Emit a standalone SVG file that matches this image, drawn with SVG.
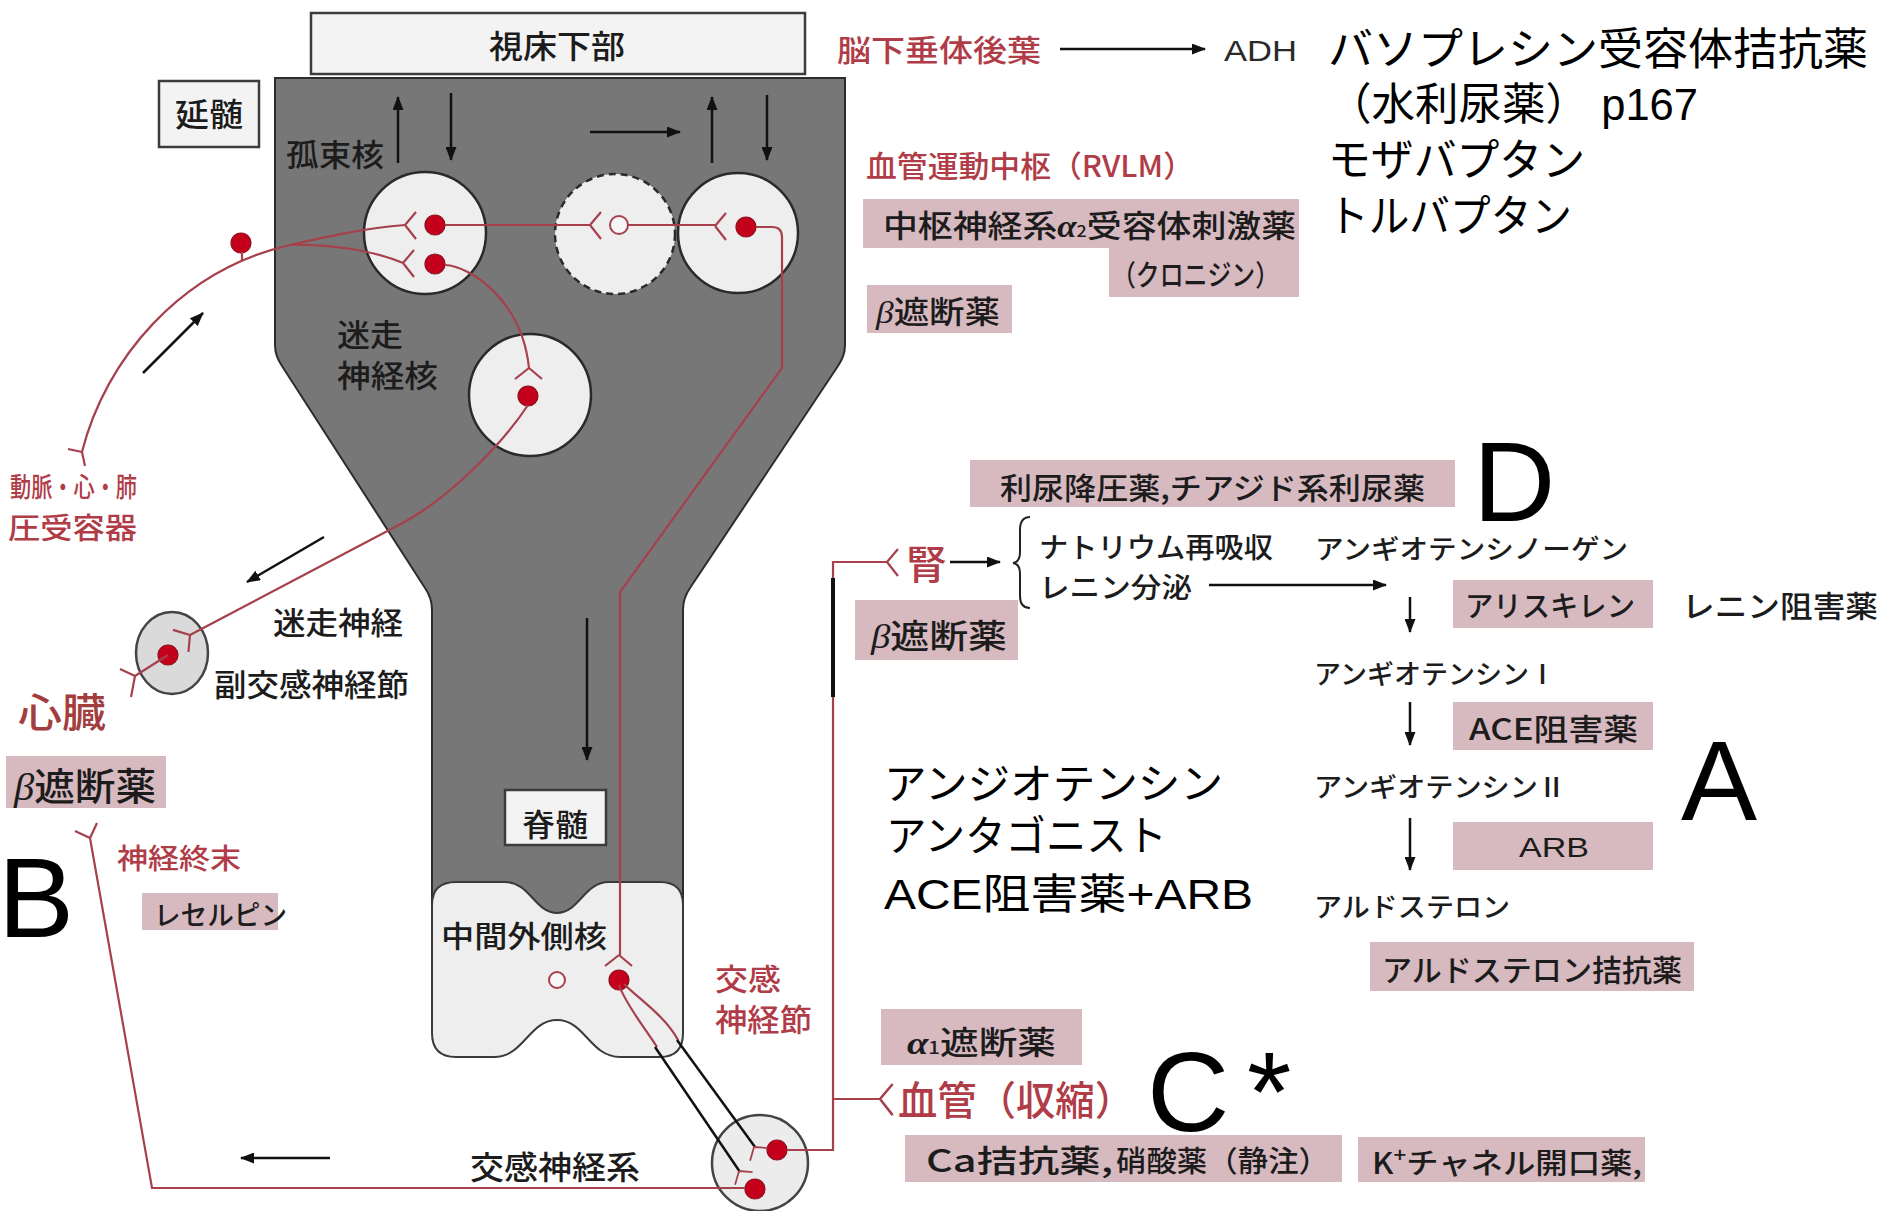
<svg xmlns="http://www.w3.org/2000/svg" width="1883" height="1211" viewBox="0 0 1883 1211">
<style>
  .t{font-family:"Noto Sans CJK JP","Noto Sans",sans-serif;fill:#1c1c1c;font-weight:500}
  .r{fill:#b03c48}
  .n{font-family:"Liberation Sans","Noto Sans CJK JP",sans-serif;fill:#000}
  .big{font-family:"Liberation Sans",sans-serif;font-size:114px;fill:#000}
  .gr{font-family:"Liberation Serif",serif;font-style:italic}
  .pk{fill:#d7b9c0}
  .nv{fill:none;stroke:#a6404d;stroke-width:2.2}
  .nuc{fill:#eeeeee;stroke:#2a2a2a;stroke-width:2.5}
  .dot{fill:#c4001c;stroke:#8e0f1c;stroke-width:1.2}
  .ar{fill:none;stroke:#111;stroke-width:2.5;marker-end:url(#ah)}
  .blk{fill:none;stroke:#111;stroke-width:2.5}
  .box{fill:#f3f3f3;stroke:#3c3c3c;stroke-width:2.5}
</style>
<defs>
  <marker id="ah" viewBox="0 0 14 11" refX="13" refY="5.5" markerWidth="14" markerHeight="11" markerUnits="userSpaceOnUse" orient="auto">
    <path d="M0 0 L14 5.5 L0 11 Z" fill="#111"/>
  </marker>
  <!-- synaptic terminal: fibre arrives at the vertex, two prongs open forward -->
  <path id="syn" d="M0 0 L11 -13 M0 0 L11 14" class="nv"/>
</defs>

<rect width="1883" height="1211" fill="#fff"/>

<!-- brain stem and spinal cord body -->
<g id="medulla">
  <path d="M275 78 H845 V345 Q845 356 838 366 L690 588 Q683 598 683 610 V930 H432 V610 Q432 598 425 588 L282 366 Q275 356 275 345 Z" fill="#777" stroke="#2d2d2d" stroke-width="2"/>
</g>

<g id="spinal-cord">
  <path d="M432 905 Q432 882 456 882 L505 882 C530 882 535 913 557 913 C579 913 584 882 609 882 L660 882 Q683 882 683 905 L683 1033 Q683 1057 660 1057 L620 1057 C590 1057 585 1020 557 1020 C529 1020 524 1057 494 1057 L456 1057 Q432 1057 432 1033 Z" fill="#eeeeee" stroke="#3a3a3a" stroke-width="2"/>
  <rect x="505" y="790" width="101" height="55" class="box"/>
  <text x="555" y="836" class="t" font-size="31" text-anchor="middle" textLength="66" lengthAdjust="spacingAndGlyphs">脊髄</text>
  <text x="441" y="947" class="t" font-size="30" textLength="166" lengthAdjust="spacingAndGlyphs">中間外側核</text>
  <circle cx="557" cy="980" r="8" fill="#f6f6f6" stroke="#a6404d" stroke-width="2"/>
  <circle cx="619" cy="980" r="10" class="dot"/>
</g>

<g id="hypothalamus">
  <rect x="311" y="13" width="494" height="61" class="box"/>
  <text x="557" y="58" class="t" font-size="32" text-anchor="middle" textLength="136" lengthAdjust="spacingAndGlyphs">視床下部</text>
</g>

<g id="medulla-label">
  <rect x="159" y="81" width="100" height="66" class="box"/>
  <text x="209" y="126" class="t" font-size="32" text-anchor="middle" textLength="68" lengthAdjust="spacingAndGlyphs">延髄</text>
</g>

<g id="nts">
  <circle cx="425" cy="233" r="61" class="nuc"/>
  <circle cx="435" cy="225" r="10" class="dot"/>
  <circle cx="435" cy="264" r="10" class="dot"/>
  <text x="286" y="166" class="t" font-size="31" textLength="98" lengthAdjust="spacingAndGlyphs">孤束核</text>
</g>

<g id="interneuron">
  <circle cx="615" cy="234" r="60" class="nuc" stroke-dasharray="7 5"/>
  <circle cx="619" cy="225" r="9" fill="#f6f6f6" stroke="#a6404d" stroke-width="2"/>
</g>

<g id="rvlm-neuron">
  <circle cx="738" cy="233" r="60" class="nuc"/>
  <circle cx="746" cy="227" r="10" class="dot"/>
</g>

<g id="vagal-nucleus">
  <circle cx="530" cy="395" r="61" class="nuc"/>
  <circle cx="528" cy="396" r="10" class="dot"/>
  <text x="337" y="346" class="t" font-size="31" textLength="66" lengthAdjust="spacingAndGlyphs">迷走</text>
  <text x="337" y="387" class="t" font-size="31" textLength="101" lengthAdjust="spacingAndGlyphs">神経核</text>
</g>

<g id="baroreceptor">
  <circle cx="241" cy="243" r="10" class="dot"/>
  <text x="10" y="497" class="t r" font-size="27" textLength="127" lengthAdjust="spacingAndGlyphs">動脈・心・肺</text>
  <text x="8" y="539" class="t r" font-size="29" textLength="129" lengthAdjust="spacingAndGlyphs">圧受容器</text>
</g>

<g id="parasympathetic-ganglion">
  <ellipse cx="172" cy="653" rx="36" ry="41" fill="#dadada" stroke="#444" stroke-width="2.5"/>
  <circle cx="168" cy="655" r="10" class="dot"/>
  <text x="273" y="634" class="t" font-size="31" textLength="130" lengthAdjust="spacingAndGlyphs">迷走神経</text>
  <text x="214" y="696" class="t" font-size="31" textLength="195" lengthAdjust="spacingAndGlyphs">副交感神経節</text>
</g>

<g id="heart">
  <text x="18" y="727" class="t" font-size="40" textLength="88" lengthAdjust="spacingAndGlyphs" style="fill:#a33d3e">心臓</text>
  <rect x="6" y="756" width="160" height="52" class="pk"/>
  <text x="14" y="800" class="t" font-size="38" textLength="142" lengthAdjust="spacingAndGlyphs"><tspan class="gr">β</tspan>遮断薬</text>
</g>

<g id="nerve-terminal">
  <text x="117" y="869" class="t r" font-size="28" textLength="124" lengthAdjust="spacingAndGlyphs">神経終末</text>
  <rect x="142" y="893" width="136" height="37" class="pk"/>
  <text x="154" y="925" class="t" font-size="27" textLength="133" lengthAdjust="spacingAndGlyphs">レセルピン</text>
</g>

<g id="sympathetic-ganglion">
  <circle cx="760" cy="1163" r="48" fill="#ececec" stroke="#444" stroke-width="2.5"/>
  <circle cx="777" cy="1150" r="10" class="dot"/>
  <circle cx="755" cy="1189" r="10" class="dot"/>
  <text x="715" y="990" class="t r" font-size="30" textLength="66" lengthAdjust="spacingAndGlyphs">交感</text>
  <text x="715" y="1031" class="t r" font-size="31" textLength="97" lengthAdjust="spacingAndGlyphs">神経節</text>
  <text x="470" y="1179" class="t" font-size="32" textLength="170" lengthAdjust="spacingAndGlyphs">交感神経系</text>
</g>

<g id="pituitary">
  <text x="837" y="61" class="t r" font-size="30" textLength="204" lengthAdjust="spacingAndGlyphs">脳下垂体後葉</text>
  <text x="1224" y="61" font-family="Liberation Sans,sans-serif" font-size="30" fill="#2a2a2a" textLength="73" lengthAdjust="spacingAndGlyphs">ADH</text>
</g>

<g id="vasomotor-center">
  <text x="866" y="177" class="t r" font-size="30" textLength="328" lengthAdjust="spacingAndGlyphs">血管運動中枢（RVLM）</text>
  <path d="M863 199 H1299 V297 H1109 V248 H863 Z" class="pk"/>
  <text x="883" y="237" class="t" font-size="31" textLength="413" lengthAdjust="spacingAndGlyphs">中枢神経系<tspan class="gr" font-weight="bold">α</tspan><tspan font-size="16">2</tspan>受容体刺激薬</text>
  <text x="1112" y="286" class="t" font-size="29" textLength="167" lengthAdjust="spacingAndGlyphs">（クロニジン）</text>
  <rect x="867" y="285" width="145" height="48" class="pk"/>
  <text x="876" y="323" class="t" font-size="31" textLength="124" lengthAdjust="spacingAndGlyphs"><tspan class="gr">β</tspan>遮断薬</text>
</g>

<g id="vasopressin-note">
  <text x="1328" y="65" class="n" font-size="44" textLength="540" lengthAdjust="spacingAndGlyphs">バソプレシン受容体拮抗薬</text>
  <text x="1328" y="120" class="n" font-size="44" textLength="370" lengthAdjust="spacingAndGlyphs">（水利尿薬） p167</text>
  <text x="1328" y="176" class="n" font-size="44" textLength="257" lengthAdjust="spacingAndGlyphs">モザバプタン</text>
  <text x="1328" y="232" class="n" font-size="44" textLength="244" lengthAdjust="spacingAndGlyphs">トルバプタン</text>
</g>

<g id="diuretic">
  <rect x="970" y="460" width="485" height="47" class="pk"/>
  <text x="1000" y="499" class="t" font-size="30" textLength="425" lengthAdjust="spacingAndGlyphs">利尿降圧薬,チアジド系利尿薬</text>
  <text x="1473" y="521" class="big">D</text>
</g>

<g id="kidney">
  <text x="906" y="579" class="t r" font-size="40" textLength="41" lengthAdjust="spacingAndGlyphs">腎</text>
  <rect x="855" y="600" width="163" height="60" class="pk"/>
  <text x="871" y="648" class="t" font-size="33" textLength="136" lengthAdjust="spacingAndGlyphs"><tspan class="gr">β</tspan>遮断薬</text>
  <text x="1039" y="558" class="t" font-size="28" textLength="234" lengthAdjust="spacingAndGlyphs">ナトリウム再吸収</text>
  <text x="1039" y="598" class="t" font-size="28" textLength="153" lengthAdjust="spacingAndGlyphs">レニン分泌</text>
</g>

<g id="raas">
  <text x="1315" y="559" class="t" font-size="27" textLength="313" lengthAdjust="spacingAndGlyphs">アンギオテンシノーゲン</text>
  <rect x="1453" y="580" width="200" height="48" class="pk"/>
  <text x="1465" y="617" class="t" font-size="29" textLength="170" lengthAdjust="spacingAndGlyphs">アリスキレン</text>
  <text x="1682" y="617" class="t" font-size="30" textLength="196" lengthAdjust="spacingAndGlyphs">レニン阻害薬</text>
  <text x="1314" y="684" class="t" font-size="27" textLength="242" lengthAdjust="spacingAndGlyphs">アンギオテンシンⅠ</text>
  <rect x="1453" y="702" width="200" height="48" class="pk"/>
  <text x="1469" y="740" class="t" font-size="30" textLength="169" lengthAdjust="spacingAndGlyphs">ACE阻害薬</text>
  <text x="1314" y="797" class="t" font-size="27" textLength="252" lengthAdjust="spacingAndGlyphs">アンギオテンシンⅡ</text>
  <rect x="1453" y="822" width="200" height="48" class="pk"/>
  <text x="1519" y="857" font-family="Liberation Sans,sans-serif" font-size="28" fill="#1c1c1c" textLength="70" lengthAdjust="spacingAndGlyphs">ARB</text>
  <text x="1314" y="917" class="t" font-size="27" textLength="196" lengthAdjust="spacingAndGlyphs">アルドステロン</text>
  <rect x="1370" y="942" width="324" height="49" class="pk"/>
  <text x="1382" y="981" class="t" font-size="30" textLength="300" lengthAdjust="spacingAndGlyphs">アルドステロン拮抗薬</text>
  <text x="1681" y="820" class="big">A</text>
</g>

<g id="angiotensin-note">
  <text x="884" y="799" class="n" font-size="42" textLength="339" lengthAdjust="spacingAndGlyphs">アンジオテンシン</text>
  <text x="886" y="851" class="n" font-size="42" textLength="281" lengthAdjust="spacingAndGlyphs">アンタゴニスト</text>
  <text x="884" y="909" class="n" font-size="42" textLength="369" lengthAdjust="spacingAndGlyphs">ACE阻害薬+ARB</text>
</g>

<g id="vessel">
  <rect x="881" y="1009" width="201" height="56" class="pk"/>
  <text x="907" y="1054" class="t" font-size="32" textLength="149" lengthAdjust="spacingAndGlyphs"><tspan class="gr" font-weight="bold">α</tspan><tspan font-size="17">1</tspan>遮断薬</text>
  <text x="898" y="1115" class="t r" font-size="40" textLength="236" lengthAdjust="spacingAndGlyphs">血管（収縮）</text>
  <rect x="905" y="1135" width="437" height="47" class="pk"/>
  <text x="926" y="1172" class="t" font-size="31" font-weight="bold" textLength="187" lengthAdjust="spacingAndGlyphs">Ca拮抗薬,</text>
  <text x="1116" y="1172" class="t" font-size="29" textLength="213" lengthAdjust="spacingAndGlyphs">硝酸薬（静注）</text>
  <rect x="1358" y="1137" width="287" height="45" class="pk"/>
  <text x="1372" y="1174" class="t" font-size="29" textLength="270" lengthAdjust="spacingAndGlyphs">K<tspan font-size="20" dy="-12">+</tspan><tspan dy="12">チャネル開口薬,</tspan></text>
  <text x="1147" y="1131" class="big" word-spacing="-14">C *</text>
</g>

<g id="label-b">
  <text x="-2" y="937" class="big">B</text>
</g>

<g id="connectors">
  <!-- afferent fibre from the baroreceptor to the solitary nucleus -->
  <path class="nv" d="M82 452 C105 360 180 270 290 245"/>
  <path class="nv" d="M290 245 C325 237 365 228 405 225"/>
  <path class="nv" d="M290 245 C330 244 372 250 403 263"/>
  <path class="nv" d="M242 252 V261"/>
  <path class="nv" d="M82 452 L68 449 M82 452 L85 466"/>
  <use href="#syn" transform="translate(405 225)"/>
  <use href="#syn" transform="translate(403 263)"/>

  <!-- solitary nucleus -> interneuron -> RVLM -> spinal cord -->
  <path class="nv" d="M445 225 H590"/>
  <use href="#syn" transform="translate(590 225)"/>
  <path class="nv" d="M628 225 H715"/>
  <use href="#syn" transform="translate(715 226)"/>
  <path class="nv" d="M756 227 H772 Q782 227 782 237 V368 L620 592 V955"/>
  <use href="#syn" transform="translate(619 955) rotate(90)"/>

  <!-- solitary nucleus -> vagal nucleus -> parasympathetic ganglion -->
  <path class="nv" d="M445 265 C470 266 522 300 529 368"/>
  <use href="#syn" transform="translate(529 368) rotate(90)"/>
  <path class="nv" d="M528 405 C505 440 450 500 395 527 L190 635"/>
  <use href="#syn" transform="translate(190 635) rotate(145)"/>
  <path class="nv" d="M168 655 L135 676 L120 669 M135 676 L131 697"/>

  <!-- preganglionic sympathetic fibres -->
  <path class="nv" d="M619 985 C626 1005 645 1028 657 1047"/>
  <path class="nv" d="M624 984 C640 1000 665 1016 678 1040"/>
  <path class="blk" d="M655 1047 L740 1172"/>
  <path class="blk" d="M677 1040 L755 1147"/>
  <use href="#syn" transform="translate(754 1147) rotate(54) scale(0.8)"/>
  <use href="#syn" transform="translate(739 1171) rotate(54) scale(0.8)"/>

  <!-- postganglionic fibres: kidney, vessels, peripheral terminal -->
  <path class="nv" d="M787 1150 H833 V562 H887"/>
  <use href="#syn" transform="translate(887 562)"/>
  <path class="nv" d="M833 1099 H880"/>
  <use href="#syn" transform="translate(880 1099) scale(1.15)"/>
  <path d="M833 578 V697" stroke="#111" stroke-width="4"/>
  <path class="nv" d="M745 1188 H152 L90 838 L75 831 M90 838 L97 823"/>

  <!-- direction arrows -->
  <path class="ar" d="M398 163 V97"/>
  <path class="ar" d="M451 93 V160"/>
  <path class="ar" d="M590 132 H680"/>
  <path class="ar" d="M712 163 V97"/>
  <path class="ar" d="M767 95 V160"/>
  <path class="ar" d="M143 373 L203 313"/>
  <path class="ar" d="M324 537 L247 582"/>
  <path class="ar" d="M587 618 V760"/>
  <path class="ar" d="M330 1158 H241"/>
  <path class="ar" d="M1060 49 H1205"/>
  <path class="ar" d="M950 562 H1000"/>
  <path class="ar" d="M1209 585 H1386"/>
  <path class="ar" d="M1410 597 V632"/>
  <path class="ar" d="M1410 702 V745"/>
  <path class="ar" d="M1410 818 V870"/>
  <path d="M1030 517 Q1020 517 1020 530 V552 Q1020 562 1013 563 Q1020 564 1020 574 V596 Q1020 608 1030 608" fill="none" stroke="#222" stroke-width="2"/>
</g>
</svg>
